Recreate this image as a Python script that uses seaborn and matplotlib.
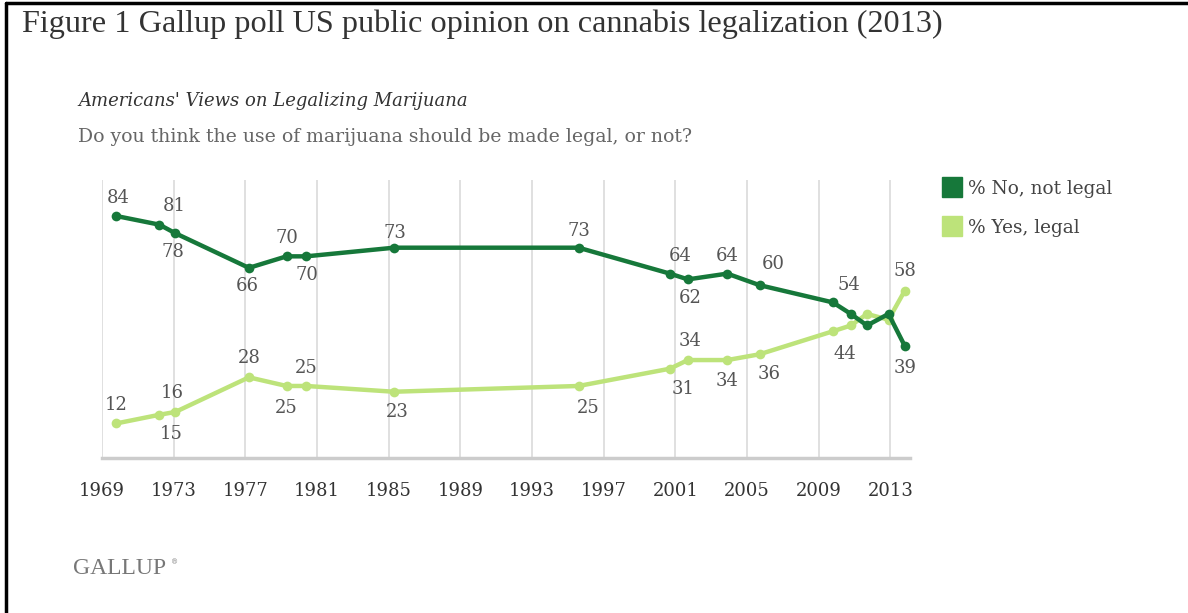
import pandas as pd
import seaborn as sns
import matplotlib.pyplot as plt
from matplotlib.lines import Line2D

# survey dates (fractional years) and percentages
dates = [1969.8, 1972.2, 1973.1, 1977.2, 1979.3, 1980.4, 1985.3, 1995.6,
         2000.7, 2001.7, 2003.9, 2005.7, 2009.8, 2010.8, 2011.7, 2012.9, 2013.8]
no_legal = [84, 81, 78, 66, 70, 70, 73, 73, 64, 62, 64, 60, 54, 50, 46, 50, 39]
yes_legal = [12, 15, 16, 28, 25, 25, 23, 25, 31, 34, 34, 36, 44, 46, 50, 48, 58]
series_names = ["% No, not legal", "% Yes, legal"]
year_ticks = list(range(1969, 2014, 4))

# label placement (pixel offsets), None = no label
no_offsets = [(2, 18), (15, 19), (-3, -19), (-2, -18), (0, 18), (1, -19), (1, 15), (0, 17),
              (10, 18), (2, -19), (0, 18), (14, 21), (16, 17), None, None, None, (0, -22)]
yes_offsets = [(0, 18), (12, -19), (-3, 19), (0, 19), (0, -22), (0, 18), (3, -20), (10, -22),
               (13, -20), (2, 19), (0, -21), (10, -20), (12, -23), None, None, None, (0, 20)]

dark_green = "#16783a"
light_green = "#bde37a"
text_gray = "#555555"

df = pd.DataFrame({
    "date": dates * 2,
    "pct": no_legal + yes_legal,
    "series": [series_names[0]] * len(dates) + [series_names[1]] * len(dates),
})

sns.set_style("white")
plt.rcParams["font.family"] = ["DejaVu Serif"]

fig = plt.figure(figsize=(11.88, 6.13), dpi=100)
ax = fig.add_axes([102 / 1188, 1 - 458 / 613, 808 / 1188, 278 / 613])

sns.lineplot(data=df, x="date", y="pct", hue="series", hue_order=series_names[::-1],
             palette={series_names[0]: dark_green, series_names[1]: light_green},
             marker="o", markersize=7, markeredgewidth=0, linewidth=3.2, ax=ax,
             legend=False)

ax.set_xlim(1969, 2014.1)
ax.set_ylim(0, 96.5)
ax.set_xticks(year_ticks)
ax.set_xticklabels([str(y) for y in year_ticks], fontsize=13, color="#333333")
ax.tick_params(axis="x", length=0, pad=17)
ax.set_yticks([])
ax.set_xlabel("")
ax.set_ylabel("")
ax.grid(axis="x", color="#dddddd", linewidth=1.3)
ax.set_axisbelow(True)
for side in ["left", "right", "top"]:
    ax.spines[side].set_visible(False)
ax.spines["bottom"].set_color("#cccccc")
ax.spines["bottom"].set_linewidth(2.5)

for vals, offs in [(no_legal, no_offsets), (yes_legal, yes_offsets)]:
    for x, v, off in zip(dates, vals, offs):
        if off is None:
            continue
        ax.annotate(str(v), (x, v), xytext=off, textcoords="offset pixels",
                    ha="center", va="center", fontsize=13, color=text_gray)

# legend with square swatches
handles = [Line2D([], [], marker="s", linestyle="", markersize=14, color=c)
           for c in (dark_green, light_green)]
fig.legend(handles, series_names, loc="upper left",
           bbox_to_anchor=(925 / 1188, 1 - 163 / 613), frameon=False,
           fontsize=13.3, labelcolor="#444444", handletextpad=0.35,
           labelspacing=1.15, handlelength=1.1)

# texts
fig.text(22 / 1188, 1 - 24 / 613,
         "Figure 1 Gallup poll US public opinion on cannabis legalization (2013)",
         fontsize=23.2, family="Liberation Serif", color="#333333", va="center")
fig.text(78 / 1188, 1 - 101 / 613, "Americans' Views on Legalizing Marijuana",
         fontsize=13, style="italic", color="#333333", va="center")
fig.text(78 / 1188, 1 - 137 / 613,
         "Do you think the use of marijuana should be made legal, or not?",
         fontsize=13.6, color="#666666", va="center")
fig.text(73 / 1188, 1 - 568 / 613, "GALLUP", fontsize=17,
         family="Liberation Serif", color="#777777", va="center")
fig.text(171 / 1188, 1 - 562 / 613, "\u00ae", fontsize=5,
         color="#777777", va="center")

# frame lines of the figure box
fig.add_artist(Line2D([6 / 1188, 6 / 1188], [0, 1 - 3 / 613], color="black",
                      linewidth=2.5, transform=fig.transFigure))
fig.add_artist(Line2D([6 / 1188, 1], [1 - 3 / 613, 1 - 3 / 613], color="black",
                      linewidth=2.5, transform=fig.transFigure))

fig.savefig("out.png", dpi=100)
